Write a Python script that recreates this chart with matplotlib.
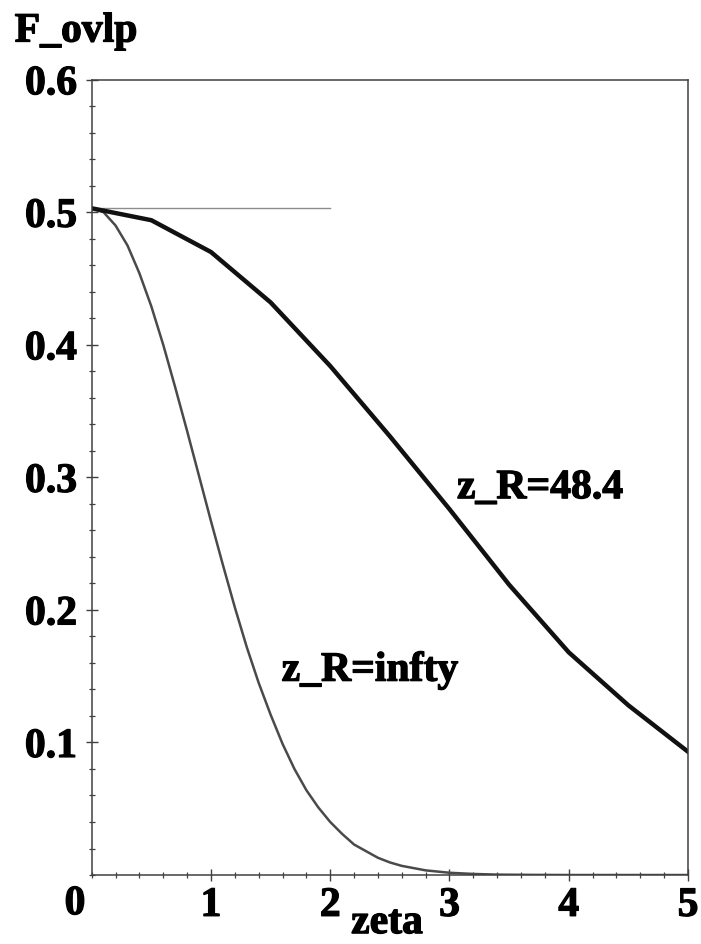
#!/usr/bin/env python

"""Overlap factor F_ovlp against zeta for two Rayleigh ranges."""

import sys
import matplotlib
matplotlib.use("Agg")
import matplotlib.pyplot as plot
import matplotlib.patheffects as patheffects
from matplotlib.ticker import MultipleLocator

# finite Rayleigh range, z_R = 48.4
zeta_finite = [0.0, 0.5, 1.0, 1.5, 2.0, 2.5, 3.0, 3.5, 4.0, 4.5, 5.0]
ovlp_finite = [0.503, 0.494, 0.470, 0.432, 0.384, 0.331, 0.276, 0.219,
               0.168, 0.128, 0.093]

# infinite Rayleigh range
zeta_infty = [0.0, 0.1, 0.2, 0.3, 0.4, 0.5, 0.6, 0.7, 0.8, 0.9, 1.0,
              1.1, 1.2, 1.3, 1.4, 1.5, 1.6, 1.7, 1.8, 1.9, 2.0,
              2.1, 2.2, 2.3, 2.4, 2.5, 2.6, 2.8, 3.0, 3.2, 3.4, 3.7,
              4.0, 5.0]
ovlp_infty = [0.503, 0.500, 0.490, 0.475, 0.454, 0.429, 0.400, 0.368,
              0.335, 0.301, 0.267, 0.234, 0.202, 0.172, 0.145, 0.121,
              0.099, 0.080, 0.064, 0.051, 0.040, 0.031, 0.023, 0.018,
              0.013, 0.0095, 0.0069, 0.0035, 0.0017, 0.0008, 0.0003,
              0.0001, 0.0, 0.0]

# reference level at zeta = 0
ref_zeta = [0.0, 2.0]
ref_ovlp = [0.503, 0.503]

x_ticks = [1, 2, 3, 4, 5]
y_ticks = [0.1, 0.2, 0.3, 0.4, 0.5, 0.6]


def main(arguments):
    heavy = [patheffects.withStroke(linewidth=0.9, foreground="black")]
    font = {"family": "Liberation Serif", "weight": "bold", "size": 30,
            "path_effects": heavy}
    axis_color = "#404040"

    figure = plot.figure(figsize=(7.01, 9.45), dpi=100)
    axes = figure.add_axes([0.1308, 0.0730, 0.8507, 0.8416])

    axes.plot(ref_zeta, ref_ovlp, color="#8c8c8c", linewidth=1.0)
    axes.plot(zeta_infty, ovlp_infty, color="#4a4a4a", linewidth=1.8)
    axes.plot(zeta_finite, ovlp_finite, color="#111111", linewidth=3.2,
              solid_joinstyle="miter")

    axes.set_xlim(0, 5)
    axes.set_ylim(0, 0.6)

    axes.set_xticks(x_ticks)
    axes.set_yticks(y_ticks)
    axes.xaxis.set_minor_locator(MultipleLocator(0.2))
    axes.yaxis.set_minor_locator(MultipleLocator(0.02))
    axes.set_xticklabels([str(t) for t in x_ticks], **font)
    axes.set_yticklabels(["%.1f" % t for t in y_ticks], **font)

    axes.tick_params(which="major", direction="inout", length=9, width=1.0,
                     color=axis_color, pad=2)
    axes.tick_params(which="minor", direction="inout", length=4.5, width=0.9,
                     color=axis_color)
    axes.tick_params(axis="x", which="major", pad=4)
    axes.tick_params(axis="y", which="major", pad=6)
    axes.tick_params(top=False, right=False, which="both")

    for side in ["left", "bottom", "top", "right"]:
        axes.spines[side].set_color(axis_color)
        axes.spines[side].set_linewidth(1.1)

    # shared origin label
    axes.annotate("0", xy=(0, 0), xytext=(-12, -21), textcoords="offset points",
                  ha="center", va="center", **font)

    figure.text(387 / 701, 0.0115, "zeta", ha="center", va="baseline", **font)
    figure.text(0.021, 0.955, "F_ovlp", ha="left", va="baseline", **font)

    axes.text(3.063, 0.2843, "z_R=48.4", ha="left", va="baseline", **font)
    axes.text(1.593, 0.1466, "z_R=infty", ha="left", va="baseline", **font)

    figure.savefig("out.png", dpi=100)


if __name__ == "__main__":
    sys.exit(main(sys.argv[1:]))
